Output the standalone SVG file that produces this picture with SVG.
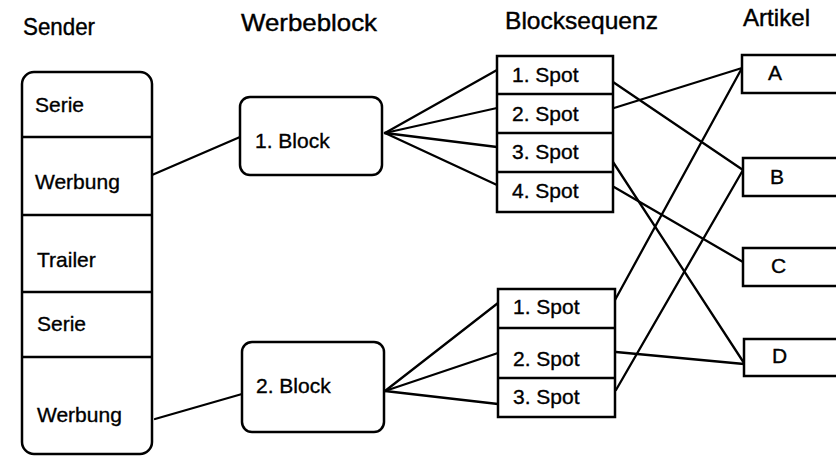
<svg xmlns="http://www.w3.org/2000/svg" width="836" height="456" viewBox="0 0 836 456">
  <style>
    .box { fill: #fff; stroke: #000; stroke-width: 2.5; }
    .div { stroke: #000; stroke-width: 2.5; }
    .wire { stroke: #000; stroke-width: 2.3; fill: none; stroke-linecap: round; }
    .head { font-family: "Liberation Sans", Arial, sans-serif; font-size: 24px; fill: #000; stroke: #000; stroke-width: 0.4; }
    .lbl { font-family: "Liberation Sans", Arial, sans-serif; font-size: 21px; fill: #000; stroke: #000; stroke-width: 0.35; }
  </style>
  <rect width="836" height="456" fill="#fff"/>

  <!-- column headings -->
  <g id="headings">
    <text class="head" x="23" y="35" textLength="72" lengthAdjust="spacingAndGlyphs">Sender</text>
    <text class="head" x="241" y="31" textLength="136" lengthAdjust="spacingAndGlyphs">Werbeblock</text>
    <text class="head" x="505" y="29" textLength="153" lengthAdjust="spacingAndGlyphs">Blocksequenz</text>
    <text class="head" x="743" y="26" textLength="67" lengthAdjust="spacingAndGlyphs">Artikel</text>
  </g>

  <!-- connectors -->
  <g id="connectors" class="wire">
    <line x1="152" y1="175" x2="240" y2="137"/>
    <line x1="155" y1="419" x2="242" y2="394"/>
    <line x1="385" y1="133" x2="497" y2="70"/>
    <line x1="385" y1="133" x2="497" y2="108"/>
    <line x1="385" y1="133" x2="497" y2="147"/>
    <line x1="385" y1="133" x2="497" y2="185"/>
    <line x1="385" y1="391" x2="498" y2="303"/>
    <line x1="385" y1="391" x2="498" y2="353"/>
    <line x1="385" y1="391" x2="498" y2="404"/>
    <line x1="613" y1="82" x2="743" y2="170"/>
    <line x1="614" y1="108" x2="742" y2="68"/>
    <line x1="613" y1="162" x2="744" y2="363"/>
    <line x1="614" y1="187" x2="743" y2="262"/>
    <line x1="615" y1="300" x2="742" y2="68"/>
    <line x1="616" y1="352" x2="744" y2="364"/>
    <line x1="616" y1="390" x2="743" y2="170"/>
  </g>

  <!-- broadcaster schedule -->
  <g id="sender">
    <rect class="box" x="22" y="72" width="130" height="382" rx="12"/>
    <line class="div" x1="22" y1="137" x2="152" y2="137"/>
    <line class="div" x1="22" y1="215" x2="152" y2="215"/>
    <line class="div" x1="22" y1="292" x2="152" y2="292"/>
    <line class="div" x1="22" y1="357" x2="152" y2="357"/>
    <text class="lbl" x="35" y="112">Serie</text>
    <text class="lbl" x="35" y="189">Werbung</text>
    <text class="lbl" x="37" y="267">Trailer</text>
    <text class="lbl" x="37" y="331">Serie</text>
    <text class="lbl" x="37" y="422">Werbung</text>
  </g>

  <!-- ad blocks -->
  <g id="block1">
    <rect class="box" x="240" y="97" width="142" height="78" rx="10"/>
    <text class="lbl" x="255" y="148">1. Block</text>
  </g>
  <g id="block2">
    <rect class="box" x="242" y="342" width="142" height="90" rx="10"/>
    <text class="lbl" x="256" y="393">2. Block</text>
  </g>

  <!-- block sequences -->
  <g id="sequence1">
    <rect class="box" x="497" y="56" width="116" height="156"/>
    <line class="div" x1="497" y1="94" x2="613" y2="94"/>
    <line class="div" x1="497" y1="133" x2="613" y2="133"/>
    <line class="div" x1="497" y1="172" x2="613" y2="172"/>
    <text class="lbl" x="512" y="82">1. Spot</text>
    <text class="lbl" x="512" y="121">2. Spot</text>
    <text class="lbl" x="512" y="159">3. Spot</text>
    <text class="lbl" x="512" y="198">4. Spot</text>
  </g>
  <g id="sequence2">
    <rect class="box" x="498" y="289" width="117" height="128"/>
    <line class="div" x1="498" y1="328" x2="615" y2="328"/>
    <line class="div" x1="498" y1="378" x2="615" y2="378"/>
    <text class="lbl" x="513" y="314">1. Spot</text>
    <text class="lbl" x="513" y="366">2. Spot</text>
    <text class="lbl" x="513" y="404">3. Spot</text>
  </g>

  <!-- articles -->
  <g id="artikelA">
    <rect class="box" x="742" y="55" width="110" height="38"/>
    <text class="lbl" x="768" y="80">A</text>
  </g>
  <g id="artikelB">
    <rect class="box" x="743" y="158" width="110" height="38"/>
    <text class="lbl" x="770" y="184">B</text>
  </g>
  <g id="artikelC">
    <rect class="box" x="743" y="248" width="110" height="38"/>
    <text class="lbl" x="771" y="273">C</text>
  </g>
  <g id="artikelD">
    <rect class="box" x="744" y="339" width="110" height="37"/>
    <text class="lbl" x="772" y="363">D</text>
  </g>
</svg>
